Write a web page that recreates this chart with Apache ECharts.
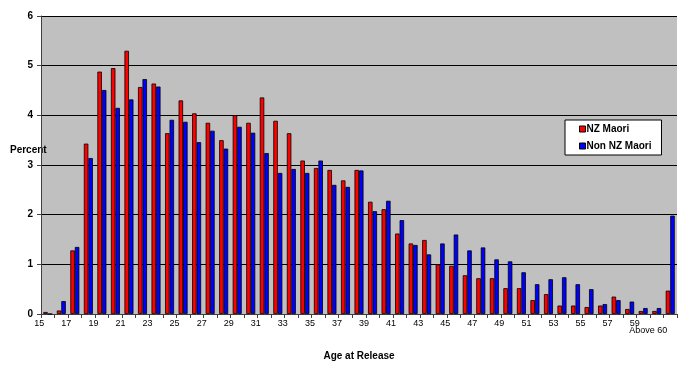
<!DOCTYPE html>
<html>
<head>
<meta charset="utf-8">
<script src="https://cdn.jsdelivr.net/npm/echarts@6/dist/echarts.min.js"></script>
<style>
html,body{margin:0;padding:0;background:#fff;}
#chart{width:680px;height:369px;}
</style>
</head>
<body>
<div id="chart"></div>
<script>
var categories = ['15','16','17','18','19','20','21','22','23','24','25','26','27','28','29','30','31','32','33','34','35','36','37','38','39','40','41','42','43','44','45','46','47','48','49','50','51','52','53','54','55','56','57','58','59','60','Above 60'];
var nzMaori = [0.04,0.07,1.28,3.43,4.88,4.95,5.30,4.57,4.64,3.64,4.30,4.04,3.85,3.50,4.00,3.85,4.36,3.89,3.64,3.09,2.94,2.90,2.69,2.90,2.26,2.11,1.62,1.42,1.49,1.00,0.97,0.78,0.72,0.72,0.52,0.52,0.28,0.40,0.17,0.17,0.14,0.17,0.35,0.10,0.06,0.06,0.47];
var nonNzMaori = [0,0.26,1.35,3.14,4.51,4.15,4.32,4.73,4.58,3.91,3.87,3.46,3.69,3.33,3.77,3.65,3.24,2.84,2.92,2.84,3.09,2.60,2.56,2.89,2.07,2.28,1.89,1.39,1.20,1.42,1.60,1.28,1.34,1.10,1.06,0.84,0.60,0.70,0.74,0.60,0.50,0.20,0.28,0.25,0.12,0.12,1.98];
var seriesNames = ['NZ Maori','Non NZ Maori'];
var yTicks = [0,1,2,3,4,5,6];

var lastIdx = categories.length - 1;
var chart = echarts.init(document.getElementById('chart'), null, {renderer:'canvas'});
var font = 'Arial, "Liberation Sans", sans-serif';
chart.setOption({
  animation:false,
  backgroundColor:'#ffffff',
  grid:{left:41,right:3,top:16,bottom:55,show:true,backgroundColor:'#c0c0c0',borderWidth:0},
  legend:{
    orient:'vertical',left:565,top:120,
    data:seriesNames,
    itemWidth:6,itemHeight:6,itemGap:7,
    icon:'rect',
    backgroundColor:'#ffffff',borderColor:'#000000',borderWidth:1,
    padding:[4,10,4,14],
    textStyle:{fontFamily:font,fontWeight:'bold',fontSize:10,color:'#000',padding:[0,0,0,-4]},
    itemStyle:{borderColor:'#000',borderWidth:1}
  },
  graphic:[{type:'text',left:10,top:145,style:{text:'Percent',fontFamily:font,fontWeight:'bold',fontSize:10,fill:'#000'}}],
  xAxis:[{
    type:'category',data:categories,
    name:'Age at Release',nameLocation:'middle',nameGap:37,
    nameTextStyle:{fontFamily:font,fontWeight:'bold',fontSize:10,color:'#000'},
    axisLine:{lineStyle:{color:'#404040',width:1}},
    axisTick:{show:true,interval:0,length:4,lineStyle:{color:'#404040'}},
    axisLabel:{
      interval:function(i){ return i % 2 === 0 && i < lastIdx; },
      margin:5,fontFamily:font,fontSize:9,color:'#000',padding:[0,17,0,0]
    }
  },{
    type:'category',data:categories,position:'bottom',
    axisLine:{show:false},axisTick:{show:false},splitLine:{show:false},
    axisLabel:{
      interval:function(i){ return i === lastIdx; },
      margin:5,showMinLabel:false,fontFamily:font,fontSize:9,color:'#000',
      formatter:function(v){ return '{a|'+v+'}'; },
      rich:{a:{fontFamily:font,fontSize:9,color:'#000',padding:[7,44,0,0]}}
    }
  }],
  yAxis:{
    type:'value',min:0,max:6,interval:1,
    axisLine:{show:true,lineStyle:{color:'#404040'}},
    axisTick:{show:true,length:4,lineStyle:{color:'#404040'}},
    axisLabel:{margin:8,fontFamily:font,fontWeight:'bold',fontSize:10,color:'#000',
      formatter:function(v){ return yTicks.indexOf(v)>=0 ? String(v) : ''; }},
    splitLine:{show:true,lineStyle:{color:'#000',width:1}}
  },
  series:[
    {name:seriesNames[0],type:'bar',data:nzMaori,barWidth:4.5,barGap:'0%',
     itemStyle:{color:'#ff0000',borderColor:'#000',borderWidth:0.8}},
    {name:seriesNames[1],type:'bar',data:nonNzMaori,barWidth:4.5,barGap:'0%',
     itemStyle:{color:'#0000ff',borderColor:'#000',borderWidth:0.8}}
  ]
});
</script>
</body>
</html>
